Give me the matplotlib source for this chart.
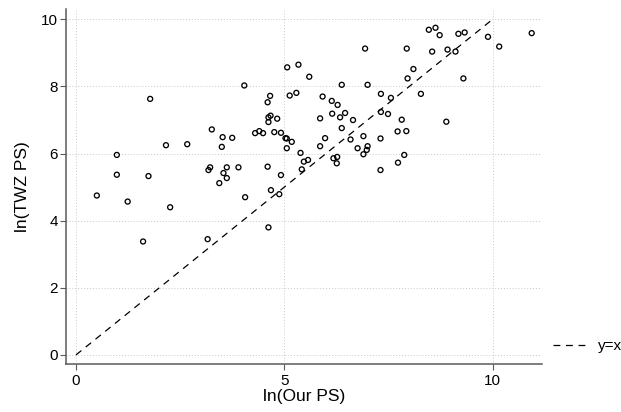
import matplotlib
matplotlib.use("Agg")
import matplotlib.pyplot as plt
import numpy as np

plt.rcParams["font.family"] = ["Liberation Sans", "DejaVu Sans"]

# ln(Our PS) and ln(TWZ PS)
our_ps = [0.50, 0.98, 0.98, 1.24, 1.61, 1.74, 1.78, 2.16, 2.26, 2.67,
          3.16, 3.18, 3.22, 3.26, 3.44, 3.50, 3.52, 3.54, 3.62, 3.62,
          3.75, 3.90, 4.04, 4.06, 4.30, 4.40, 4.49, 4.60, 4.66, 4.62,
          4.67, 4.62, 4.83, 4.76, 4.92, 4.60, 4.68, 4.88, 4.92, 4.62,
          5.07, 5.34, 5.13, 5.29, 5.60, 5.03, 5.06, 5.18, 5.06, 5.39,
          5.47, 5.42, 5.57, 5.92, 6.14, 6.28, 6.15, 6.34, 6.46, 5.86,
          6.65, 6.38, 5.98, 5.86, 6.59, 6.90, 6.76, 7.00, 6.98, 6.90,
          6.18, 6.27, 6.26, 6.38, 7.00, 6.94, 7.32, 7.56, 7.32, 7.49,
          7.82, 7.31, 7.72, 7.93, 7.88, 7.73, 7.31, 7.94, 7.96, 8.10,
          8.28, 8.89, 8.47, 8.63, 8.73, 8.55, 8.92, 9.11, 9.18, 9.33,
          9.30, 9.89, 10.16, 10.94]
twz_ps = [4.75, 5.96, 5.37, 4.57, 3.38, 5.33, 7.63, 6.25, 4.40, 6.28,
          3.45, 5.51, 5.59, 6.72, 5.12, 6.20, 6.49, 5.42, 5.59, 5.27,
          6.47, 5.59, 8.03, 4.70, 6.61, 6.67, 6.61, 7.53, 7.72, 7.08,
          7.13, 6.94, 7.04, 6.64, 6.62, 5.61, 4.91, 4.79, 5.36, 3.80,
          8.57, 8.65, 7.73, 7.81, 8.29, 6.46, 6.45, 6.35, 6.16, 6.02,
          5.76, 5.53, 5.81, 7.70, 7.57, 7.45, 7.19, 7.08, 7.21, 7.05,
          7.00, 6.76, 6.46, 6.22, 6.42, 6.52, 6.16, 6.22, 6.11, 5.98,
          5.86, 5.90, 5.71, 8.05, 8.05, 9.13, 7.78, 7.66, 7.24, 7.18,
          7.01, 6.45, 6.66, 6.67, 5.96, 5.73, 5.51, 9.13, 8.24, 8.52,
          7.78, 6.95, 9.69, 9.75, 9.53, 9.04, 9.10, 9.04, 9.57, 9.61,
          8.24, 9.48, 9.19, 9.59]

diag = [0, 10]
xticks = [0, 5, 10]
yticks = [0, 2, 4, 6, 8, 10]

fig = plt.figure(figsize=(6.21, 4.12), dpi=100)
ax = fig.add_axes([0.1063, 0.1158, 0.766, 0.8616])

ax.scatter(our_ps, twz_ps, s=3.6**2, facecolors="none", edgecolors="black",
           linewidths=0.95, zorder=3)
line, = ax.plot(diag, diag, color="black", linestyle=(0, (5.5, 4.5)),
                linewidth=0.9, zorder=2, label="y=x")

ax.set_xlim(-0.24, 11.18)
ax.set_ylim(-0.28, 10.3)
ax.set_xticks(xticks)
ax.set_yticks(yticks)

ax.grid(True, color="#c8c8c8", linestyle=(0, (1, 2)), linewidth=0.7, zorder=0)
for side in ["top", "right"]:
    ax.spines[side].set_visible(False)
for side in ["left", "bottom"]:
    ax.spines[side].set_color("#5a5a5a")
    ax.spines[side].set_linewidth(1.1)
ax.tick_params(axis="both", direction="out", length=4.5, width=0.8,
               color="#5a5a5a", labelsize=11)
ax.tick_params(axis="x", pad=2.5)
ax.tick_params(axis="y", pad=1.5)

ax.set_xlabel("ln(Our PS)", fontsize=12.5, labelpad=1)
ax.set_ylabel("ln(TWZ PS)", fontsize=12.5, labelpad=8)

fig.legend(handles=[line], loc="center left", bbox_to_anchor=(0.8905, 0.16),
           frameon=False, fontsize=11, handlelength=2.3, handletextpad=0.65,
           borderpad=0, borderaxespad=0)

fig.savefig("out.png", dpi=100)
